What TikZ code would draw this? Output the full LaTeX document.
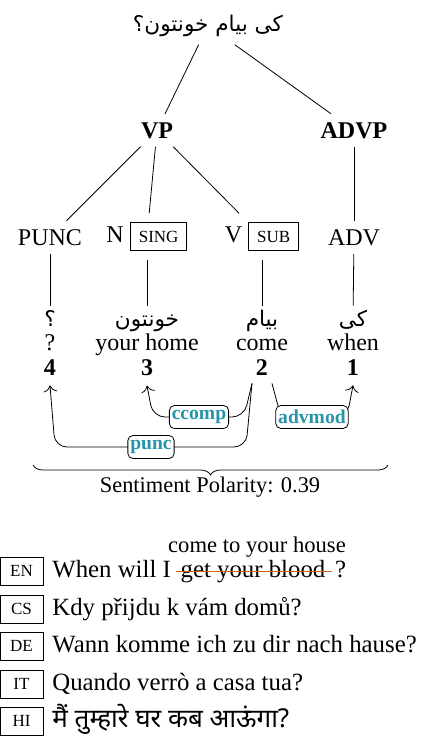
\documentclass[tikz,border=0pt]{standalone}
\usepackage{fontspec}
\setmainfont{Liberation Serif}
\newfontfamily\arabicfont[Script=Arabic]{DejaVu Sans}
\newfontfamily\hindifont[Script=Devanagari]{Noto Sans}
\TeXXeTstate=1
\usetikzlibrary{positioning, calc, arrows.meta, decorations.pathreplacing}
\definecolor{depcol}{RGB}{37,150,168}
\definecolor{strikecol}{RGB}{200,100,30}
\newcommand{\mainsize}{\fontsize{12}{14}\selectfont}
\newcommand{\sentsize}{\fontsize{12.4}{14}\selectfont}
\newcommand{\tagsize}{\fontsize{8.5}{10}\selectfont}
\newcommand{\ar}[1]{{\arabicfont\fontsize{10.8}{13}\selectfont\beginR #1\endR}}
\newcommand{\feat}[1]{{\setlength{\fboxsep}{4pt}\setlength{\fboxrule}{0.5pt}\fbox{\tagsize #1}}}
\tikzstyle{phrase} = [font=\mainsize\bfseries, inner sep=4pt, anchor=base]
\tikzstyle{postag} = [font=\mainsize, inner sep=4pt, anchor=base]
\tikzstyle{arword} = [font=\mainsize, inner sep=1pt, text height=9pt, text depth=3pt, anchor=base]
\tikzstyle{gloss} = [font=\mainsize, inner sep=1pt, anchor=base]
\tikzstyle{idx} = [font=\mainsize\bfseries, inner sep=1pt, anchor=base]
\tikzstyle{deparrow} = [-{To[scale=1.3]}, rounded corners=6pt]
\tikzstyle{deplab} = [draw, rounded corners=2.5pt, fill=white, font=\fontsize{9.8}{11}\selectfont\bfseries, text=depcol, inner sep=1.2pt, minimum height=11.5pt]
\tikzstyle{langbox} = [draw, font=\tagsize, minimum width=21.5pt, minimum height=14pt, inner sep=0pt]
\tikzstyle{sent} = [font=\sentsize, inner sep=0pt, anchor=base west]
\tikzstyle{strike} = [draw=strikecol, line width=0.6pt]

\begin{document}
\begin{tikzpicture}[x=0.5pt, y=0.5pt]
  \useasboundingbox (0,0) rectangle (420,-736);
  % tree
  \node[gloss, inner sep=4pt] (root) at (208,-31) {\ar{کی بیام خونتون؟}};
  \node[phrase] (vp) at (157,-138) {VP};
  \node[phrase] (advp) at (354,-138) {ADVP};
  \node[postag] (punc) at (50,-245) {PUNC};
  \node[postag] (nsing) at (147,-242) {N \feat{SING}};
  \node[postag] (vsub) at (262,-242) {V \feat{SUB}};
  \node[postag] (adv) at (354,-245) {ADV};

  \draw (root) -- (vp);
  \draw (root) -- (advp);
  \draw (vp) -- (punc);
  \draw (vp) -- (nsing);
  \draw (vp) -- (vsub);
  \draw (advp) -- (adv);

  % words
  \node[arword] (a4) at (50,-326) {\ar{؟}};
  \node[arword] (a3) at (147,-326) {\ar{خونتون}};
  \node[arword] (a2) at (262,-326) {\ar{بیام}};
  \node[arword] (a1) at (353,-326) {\ar{کی}};
  \node[gloss] (e4) at (50,-350) {?};
  \node[gloss] (e3) at (147,-350) {your home};
  \node[gloss] (e2) at (262,-350) {come};
  \node[gloss] (e1) at (353,-350) {when};
  \node[idx] (n4) at (50,-375) {4};
  \node[idx] (n3) at (147,-375) {3};
  \node[idx] (n2) at (262,-375) {2};
  \node[idx] (n1) at (353,-375) {1};

  \draw (punc) -- (a4);
  \draw (nsing) -- (a3);
  \draw (vsub) -- (a2);
  \draw (adv) -- (a1);

  % dependencies
  \draw[deparrow] ([xshift=-5pt,yshift=-3pt]n2.south) -- (244,-417) -- (153,-417) -- ([yshift=-4pt]n3.south);
  \draw[deparrow] ([xshift=-5pt,yshift=-3pt]n2.south) -- (246,-447) -- (55,-447) -- ([yshift=-4pt]n4.south);
  \draw[deparrow] ([xshift=5pt,yshift=-3pt]n2.south) -- (281,-417) -- (347,-417) -- ([yshift=-4pt]n1.south);
  \node[deplab] (lccomp) at (199,-417) {ccomp};
  \node[deplab] (ladvmod) at (312,-417) {advmod};
  \node[deplab] (lpunc) at (151,-447) {punc};

  % sentiment
  \coordinate (bl) at (33,-465);
  \coordinate (br) at (388,-465);
  \draw[decorate, decoration={brace, mirror, amplitude=5pt}] (bl) -- (br);
  \node[gloss, font=\fontsize{11.2}{13}\selectfont] (senti) at (210,-492) {Sentiment Polarity: 0.39};

  % translations
  \node[langbox] (len) at (21.5,-571) {EN};
  \node[langbox] (lcs) at (21.5,-609) {CS};
  \node[langbox] (lde) at (21.5,-646) {DE};
  \node[langbox] (lit) at (21.5,-684) {IT};
  \node[langbox] (lhi) at (21.5,-721) {HI};

  \node[sent] (en) at (52,-577) {When will I};
  \node[sent] (enx) at ([xshift=4.5pt]en.base east) {get your blood};
  \node[sent] (enq) at ([xshift=4.5pt]enx.base east) {?};
  \draw[strike] ([xshift=-2pt,yshift=2.8pt]enx.base west) -- ([xshift=3pt,yshift=2.8pt]enx.base east);
  \node[gloss, font=\fontsize{11.3}{13}\selectfont] (enfix) at (257,-552) {come to your house};
  \node[sent] (cs) at (52,-615) {Kdy přijdu k vám domů?};
  \node[sent] (de) at (52,-652) {Wann komme ich zu dir nach hause?};
  \node[sent] (it) at (52,-690) {Quando verrò a casa tua?};
  \node[sent] (hi) at (52,-727) {{\hindifont\fontsize{13}{15}\selectfont मैं तुम्हारे घर कब आऊंगा?}};
\end{tikzpicture}
\end{document}
